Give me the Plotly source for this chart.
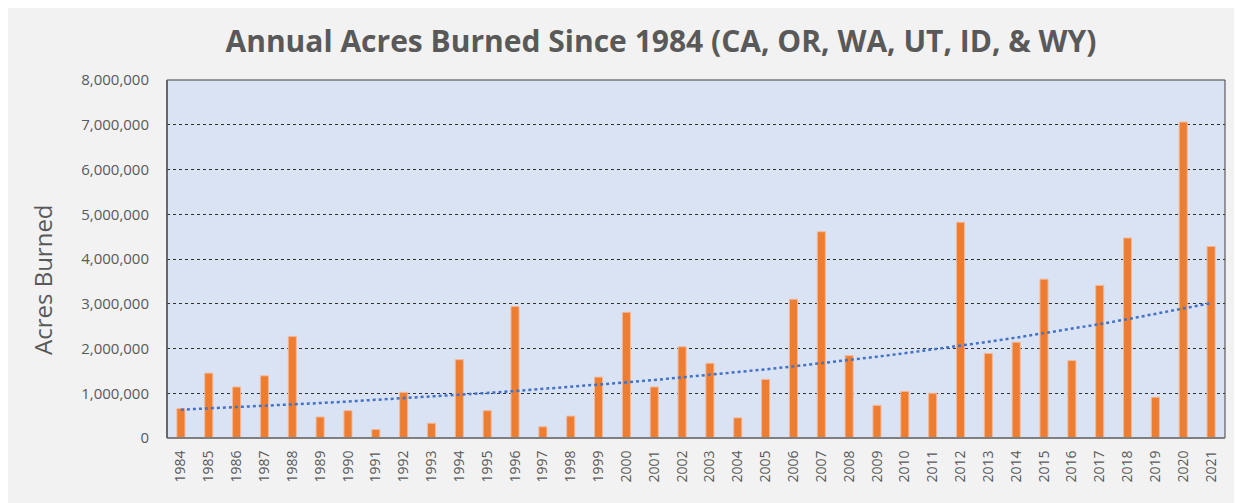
import numpy as np
import plotly.graph_objects as go

years = [str(y) for y in range(1984, 2022)]
acres = [660000, 1450000, 1140000, 1390000, 2270000, 470000, 610000, 190000, 1020000, 330000,
         1750000, 610000, 2940000, 250000, 490000, 1360000, 2810000, 1140000, 2040000, 1670000,
         450000, 1310000, 3100000, 4610000, 1840000, 730000, 1040000, 1000000, 4820000, 1890000,
         2140000, 3550000, 1730000, 3410000, 4470000, 910000, 7060000, 4280000]
y_ticks = list(range(0, 8000001, 1000000))
y_tick_text = ["0"] + [f"{v:,}" for v in y_ticks[1:]]

# exponential trendline (least squares on log values), as in a spreadsheet trendline
idx = np.arange(1, len(acres) + 1)
b, a = np.polyfit(idx, np.log(acres), 1)
trend = np.exp(a + b * idx)

OFF = 8  # default page body margin
W, H = 1242 - OFF, 503 - OFF
# plot area in screen pixels
L, R, T, B = 167, 1225, 80, 438
ml, mr, mt, mb = L - OFF, (W + OFF) - R, T - OFF, (H + OFF) - B
pw, ph = R - L, B - T

def px(x):
    return (x - L) / pw

def py(y):
    return (B - y) / ph

fig = go.Figure()
fig.add_trace(go.Bar(
    x=years, y=acres,
    marker=dict(color="#ED7D31", line=dict(color="#F4B899", width=1)),
    hoverinfo="x+y", showlegend=False,
))
fig.add_trace(go.Scatter(
    x=years, y=trend, mode="lines",
    line=dict(color="#4472C4", width=2.5, dash="dot"),
    showlegend=False, hoverinfo="skip",
))

fig.update_layout(
    width=W, height=H,
    margin=dict(l=ml, r=mr, t=mt, b=mb, pad=0),
    paper_bgcolor="#F2F2F2",
    plot_bgcolor="#DAE3F3",
    bargap=0.71,
    title=dict(
        text="<b>Annual Acres Burned Since 1984 (CA, OR, WA, UT, ID, &amp; WY)</b>",
        x=(661 - OFF) / W, xanchor="center", y=1 - (41 - OFF) / H, yanchor="middle",
        font=dict(family="Open Sans", size=30, color="#595959"),
    ),
    font=dict(family="Open Sans", color="#595959"),
)
fig.update_xaxes(
    type="category",
    tickangle=-90,
    tickfont=dict(size=14, color="#595959"),
    showgrid=False, showline=False, zeroline=False,
    ticks="outside", ticklen=6, tickcolor="rgba(0,0,0,0)",
)
fig.update_yaxes(
    range=[0, 8000000],
    tickvals=y_ticks, ticktext=y_tick_text,
    tickfont=dict(size=15, color="#595959"),
    showgrid=True, gridcolor="#303030", gridwidth=1, griddash="dot",
    zeroline=False, showline=False,
    ticks="outside", ticklen=14, tickcolor="rgba(0,0,0,0)",
)

# plot area border
fig.add_shape(type="rect", xref="paper", yref="paper", x0=0, x1=1, y0=0, y1=1,
              line=dict(color="#404040", width=1), layer="above")
fig.add_shape(type="line", xref="paper", yref="paper", x0=0, x1=1, y0=0, y1=0,
              line=dict(color="#7F7F7F", width=2), layer="above")
fig.add_shape(type="line", xref="paper", yref="paper", x0=0, x1=0, y0=0, y1=1,
              line=dict(color="#595959", width=1.5), layer="above")
# outer chart border
fig.add_shape(type="rect", xref="paper", yref="paper",
              x0=px(7), x1=px(1260), y0=py(560), y1=py(4),
              line=dict(color="#7F7F7F", width=1.5), layer="below")

fig.add_annotation(
    text="Acres Burned", textangle=-90,
    xref="paper", yref="paper", x=px(42), y=py(280),
    xanchor="center", yanchor="middle", showarrow=False,
    font=dict(family="Open Sans", size=24, color="#595959"),
)

fig.write_html("out.html")
